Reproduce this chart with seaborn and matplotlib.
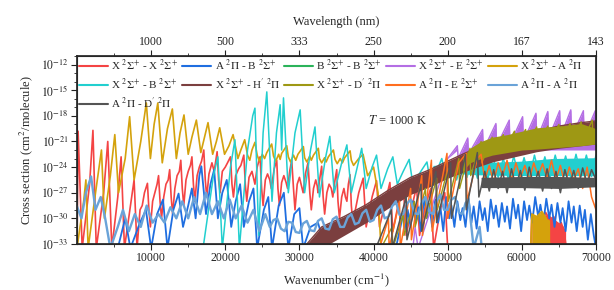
import numpy as np
import pandas as pd
import matplotlib
matplotlib.use("Agg")
import matplotlib.pyplot as plt
import seaborn as sns
from matplotlib.ticker import FixedLocator, NullFormatter

# ---------------- data (wavenumber cm^-1, log10 cross section) ----------------
labels = [r"X $^2\Sigma^{+}$ - X $^2\Sigma^{+}$", r"A $^2\Pi$ - B $^2\Sigma^{+}$",
          r"B $^2\Sigma^{+}$ - B $^2\Sigma^{+}$", r"X $^2\Sigma^{+}$ - E $^2\Sigma^{+}$",
          r"X $^2\Sigma^{+}$ - A $^2\Pi$", r"X $^2\Sigma^{+}$ - B $^2\Sigma^{+}$",
          r"X $^2\Sigma^{+}$ - H$'$ $^2\Pi$", r"X $^2\Sigma^{+}$ - D$'$ $^2\Pi$",
          r"A $^2\Pi$ - E $^2\Sigma^{+}$", r"A $^2\Pi$ - A $^2\Pi$", r"A $^2\Pi$ - D$'$ $^2\Pi$"]
colors = ["#f44444", "#1f6ee0", "#2bb35a", "#b46ee4", "#d4a20c", "#22cfcf",
          "#7b3f3f", "#9e9814", "#ff6e1f", "#6aa3d8", "#545454"]

x_x = [(0,-33.5),(150,-19.8),(700,-33.5),(1700,-26),(2150,-19.7),(2600,-33.5),(3600,-27),(4150,-21.0),
       (4700,-33.5),(5500,-27.5),(5950,-22.8),(6400,-33.5),(7300,-28),(7700,-25.5),(8100,-33.5),
       (8500,-29),(8800,-28.5),(9100,-27),(9500,-25.9),(9700,-29),(9900,-31),(10200,-28),(10500,-27),(10800,-26),
       (11000,-25.0),(11200,-28),(11400,-30),(11700,-27.5),(12000,-26),(12300,-25.5),(12500,-24.3),(12700,-27.5),
       (12900,-29.5),(13200,-26.5),(13500,-25),(13800,-24.5),(14000,-23.2),(14200,-26.5),(14400,-28.5),(14700,-25.5),
       (15000,-24.5),(15300,-23.8),(15500,-22.8),(15700,-26),(15900,-28),(16200,-25),(16500,-24),(16800,-23.3),
       (17100,-22.0),(17300,-25.5),(17500,-27.5),(17800,-24.8),(18200,-23.5),(18500,-24.5),(18900,-22.2),
       (19100,-25.5),(19300,-27),(19600,-24.5),(20000,-24),(20300,-23.5),(20700,-22.8),(20900,-26),(21100,-27.5),
       (21400,-25),(21800,-24.2),(22100,-23.8),(22500,-22.6),(22700,-26),(22900,-28),(23200,-25.2),(23600,-24.5),
       (24000,-26),(24300,-24),(24690,-22.8),(24900,-26.5),(25100,-28.5),(25400,-25.5),(25700,-24.8),(26000,-25.5),
       (26200,-26.5),(26600,-24.2),(26940,-23.2),(27100,-26.5),(27300,-28.5),(27600,-25.8),(27900,-25),(28200,-25.8),
       (28400,-26.5),(28700,-24.4),(28960,-23.2),(29200,-26.5),(29400,-29),(29700,-26),(30000,-25.2),(30300,-26.3),
       (30500,-27),(30800,-24.8),(31160,-23.5),(31400,-27),(31600,-29),(31900,-26.5),(32200,-25.5),(32400,-26.2),
       (32500,-27),(32800,-25),(33000,-23.9),(33200,-27.5),(33400,-29.5),(33700,-27),(34000,-26),(34300,-26.5),
       (34500,-27.5),(34800,-25.5),(35030,-24.3),(35200,-28),(35400,-30),(35700,-27.5),(36000,-26.5),(36200,-27.5),
       (36400,-28),(36600,-26),(36830,-24.9),(37000,-28.5),(37200,-30.5),(38000,-27),(38600,-25.3),
       (39000,-31),(39800,-27.5),(40400,-25.6),(40800,-31),(41600,-28),(42200,-25.8),(42600,-31.5),(43400,-28),
       (44000,-26),(44400,-32),(45200,-28.5),(45800,-26.3),(46200,-32),(47000,-28.5),(47700,-26.5),(48100,-33.5),
       (49000,-29),(49600,-27),(50000,-33.5),(61200,-33.5),(61350,-29.5),(61700,-30.5),(62200,-29.6),(62700,-30.8),
       (63200,-29.3),(63800,-30.2),(64300,-29.8),(64800,-31),(65300,-30.5),(65700,-31.5),(66000,-33.5)]
x_x_block = [(61350,-33.5,-29.6),(62500,-33.5,-29.8),(63500,-33.5,-29.5),(64500,-33.5,-30.2),(65500,-33.5,-30.8),
             (65900,-33.5,-31.5)]

a_b = [(5500,-33.5),(6500,-30),(7200,-33.5),(8500,-30.5),(9300,-29),(10000,-33.5),(10800,-29.5),(11600,-27.8),
       (12200,-33.5),(13000,-29),(13700,-27.1),(14300,-31),(15000,-28.5),(15500,-26.5),(16000,-30),(16500,-25),
       (16770,-23.9),(17400,-29.5),(18000,-26),(18500,-24.3),(19000,-30),(19600,-27),(20200,-25.5),(20800,-31),
       (21400,-28),(22000,-26),(22500,-31),(23200,-28),(23800,-26.5),(24300,-33.5),(25200,-29),(25800,-27.5),
       (26300,-33.5),(27200,-28.5),(27900,-27),(28500,-33.5),(29300,-29.5),(30000,-28.8),(30500,-33.5),(31500,-31),
       (32500,-30.5),(33500,-33.5),(43000,-33.5),(44000,-29.5),(44300,-31.5),(44600,-29),(45000,-31),(45300,-28),
       (45700,-30.5),(46000,-28.7),(46400,-31.5),(46800,-27.5),(47200,-30),(47500,-28.3),(47900,-31),(48300,-27.8),
       (48700,-30.5),(49000,-28.6),(49400,-31.5),(49800,-27.5),(50200,-30),(50500,-28.5),(50900,-31),(51300,-28),
       (51700,-30.2),(52000,-28.8),(52400,-31),(52800,-27.6),(53200,-30.5),(53500,-28.6),(53900,-31.2),(54300,-28),
       (54700,-30.2),(55000,-28.8),(55400,-31.5),(55800,-27.8),(56200,-30),(56500,-28.5),(56900,-31),(57300,-28.2),
       (57700,-30.4),(58000,-28.6),(58400,-31.2),(58800,-27.7),(59200,-30),(59500,-28.4),(59900,-31.5),(60300,-28),
       (60700,-30.2),(61000,-28.5),(61400,-30.5),(61800,-27.5),(62200,-29.8),(62500,-28.4),(62900,-30.5),(63300,-27.7),
       (63700,-30),(64000,-28.4),(64400,-31),(64800,-28.2),(65200,-30.5),(65500,-28.8),(65900,-31.5),(66300,-28),
       (66700,-30.5),(67000,-28.6),(67400,-31.5),(67800,-28.5),(68200,-31),(68500,-29),(68900,-32.5),(69300,-29.5),
       (69700,-32),(70000,-33.5)]

b_b = [(55000,-25.8),(58000,-25.7),(61000,-25.8),(64000,-25.7),(67000,-25.8),(70000,-25.7)]

x_e = [(45300,-33.5),(45600,-31),(46000,-33.5),(50000,-23),(51300,-21.5),(51400,-23),(52700,-20.6),(52800,-22.5),
       (54700,-19.6),(54800,-22),(56500,-18.9),(56600,-21.5),(58300,-18.5),(58400,-21.3),(60100,-18.1),(60200,-21),
       (61900,-17.7),(62000,-20.8),(63500,-17.5),(63600,-20.6),(65100,-17.4),(65200,-20.5),(66600,-17.3),
       (66700,-20.5),(68300,-17.4),(68400,-20.5),(69900,-17.4),(70000,-20.5)]

x_a = [(0,-33.5),(900,-28),(1200,-25.5),(1500,-33.5),(2500,-27),(3300,-22.0),(3700,-30),(4500,-25),(5100,-20.2),
       (5600,-27),(6500,-23),(7100,-18.1),(7700,-25.5),(8600,-21),(9350,-16.5),(9900,-23),(10400,-19),(10900,-16.5),
       (11500,-23.5),(12200,-19.5),(12860,-17.2),(13400,-23),(13900,-20),(14430,-17.9),(15000,-22.5),(15500,-20.5),
       (16100,-18.5),(16700,-22.3),(17200,-20.5),(17670,-18.8),(18300,-22.5),(18800,-21),(19250,-19.4),(19900,-22.5),
       (20500,-21.5),(21050,-20.2),(21700,-23),(22100,-22),(22620,-20.8),(23000,-22.6),(23300,-23.2),(23600,-22),
       (24000,-21.1),(24300,-22.6),(24600,-23.3),(25000,-22.5),(25300,-23),(25600,-22.3),(26260,-21.3),(26500,-22.7),
       (26800,-23.3),(27200,-22.5),(27400,-23.1),(27600,-22.4),(28290,-21.5),(28500,-22.8),(28800,-23.4),
       (29200,-22.6),(29500,-23.2),(29800,-22.5),(30530,-21.6),(30700,-22.9),(31000,-23.4),(31400,-22.7),(31600,-23.2),
       (31900,-22.6),(32550,-21.8),(32700,-23),(33000,-23.5),(33400,-22.9),(33600,-23.4),(33900,-22.8),(34580,-22.0),
       (34800,-23.1),(35100,-23.6),(35500,-23),(35800,-23.5),(36100,-22.9),(36830,-22.1),(37000,-23.2),(37300,-23.8),
       (38000,-23),(38580,-22.5),(39200,-25),(40000,-24),(40600,-27),
       (41000,-33.5),(61200,-33.5),(61350,-29.5),(62000,-29.8),(62700,-29.2),(63300,-30),(63800,-33.5)]
x_a_block = [(61350,-33.5,-29.5),(62000,-33.5,-29.8),(62700,-33.5,-29.2),(63300,-33.5,-30),(63750,-33.5,-30.2)]

x_b = [(17000,-33.5),(18400,-25),(19000,-22.8),(19600,-33.5),(20700,-24),(21300,-20.8),(21900,-33.5),(23000,-22),
       (23700,-18),(24000,-17.1),(24500,-32),(25100,-20),(25600,-15.2),(26300,-28),(26900,-20),(27400,-16.7),
       (27600,-22),(27850,-15.9),(28500,-27),(29400,-20),(30100,-17.3),(30700,-27),(31500,-22),(32100,-19.3),
       (32700,-27.5),(33500,-23),(34100,-20.4),(34700,-27),(35700,-23.5),(36400,-21.4),(37000,-27),(37800,-24),
       (38400,-21.8),(39000,-26.5),(39800,-24),(40400,-22.6),(41000,-26.5),(41900,-24.2),(42600,-22.8),(43200,-26),
       (44000,-24.5),(44800,-23.1),(45300,-26),(46300,-24.6),(47200,-23.4),(47700,-26),(48500,-24.5),(49200,-23.0),
       (49800,-25.5),(50500,-23.3),(51200,-25.5),(52000,-23),(52600,-25.2),(53300,-22.9),(54000,-25.3),(54700,-23.1),
       (55400,-25.4),(56100,-22.8),(56800,-25.2),(57500,-23),(58200,-25.5),(58900,-22.7),(59600,-25.2),(60300,-22.9),
       (61000,-25.3),(61700,-22.6),(62400,-25.1),(63100,-22.8),(63800,-25.2),(64500,-22.6),(65200,-25),(65900,-22.7),
       (66600,-25.2),(67300,-22.5),(68000,-25),(68700,-22.6),(69400,-25.1),(70000,-22.6)]
x_b_core = [(48000,-24.6,-23.8),(54000,-24.9,-23.5),(60000,-25,-23.3),(64000,-25,-23.0),(70000,-25,-22.9)]

x_h = [(30500,-33.5),(33000,-31),(36000,-29.8),(39000,-28.4),(42000,-26.7),(45000,-25.2),(47600,-24.3),
       (50000,-23.3),(53000,-22.1),(56000,-21.2),(59000,-20.5),(62000,-19.8),(65000,-19.2),(68000,-18.8),(70000,-18.6)]
x_h_core = [(30500,-33.5,-33.5),(33000,-33.5,-31),(36000,-32,-29.8),(39000,-30.5,-28.4),(42000,-28.8,-26.7),
            (45000,-27.2,-25.2),(47600,-26.3,-24.3),(50000,-25.3,-23.3),(53000,-24.3,-22.1),(56000,-23.4,-21.2),
            (59000,-22.8,-20.5),(62000,-22.2,-19.8),(65000,-21.8,-19.2),(68000,-21.5,-18.8),(70000,-21.3,-18.6)]

x_d = [(41000,-33.5),(42500,-31),(42600,-33.5),(44000,-29.5),(44100,-32),(45500,-28),(45600,-31),(47000,-26.5),
       (47100,-30),(48500,-25.3),(48600,-29),(50000,-24.2),(50100,-28),(51500,-23),(51600,-26.5),(53000,-21.8),
       (53100,-25),(54500,-21.0),(54600,-23.5),(56000,-20.5),(56100,-22.5),(57500,-20.2),(57600,-22),(59000,-19.8),
       (59100,-21.8),(60500,-19.6),(60600,-21.7),(62000,-19.3),(62100,-21.6),(63500,-19.2),(63600,-21.5),
       (65000,-19.0),(65100,-21.4),(66500,-18.9),(66600,-21.3),(68000,-18.7),(68100,-21.2),(69500,-18.5),
       (69600,-21.1),(70000,-20)]
x_d_core = [(52000,-24.5,-23),(53000,-23.5,-21.8),(54500,-23,-21.0),(56000,-22.6,-20.5),(58000,-22.3,-20.2),
            (60000,-22,-19.8),(62000,-21.9,-19.4),(65000,-21.7,-19.2),(68000,-21.5,-18.9),(70000,-21.3,-19.5)]

a_e = [(40800,-33.5),(42000,-30),(42100,-33.5),(43500,-28),(43600,-33.5),(45000,-26.5),(45100,-32.5),(46500,-25),
       (46600,-32),(47800,-23.2),(47900,-31.5),(49900,-22.4),(50000,-30),(51500,-23.5),(52500,-22.4),(52600,-28),
       (54000,-23),(54500,-22.5),(55000,-25.5),(55600,-23.8),(56200,-25.8),(56800,-23.5),(57400,-25),(58000,-23.2),
       (58600,-25.5),(59200,-23.5),(59800,-25.2),(60400,-23.8),(61000,-25.5),(61600,-23.5),(62200,-25),(62800,-23.6),
       (63400,-25.3),(64000,-23.2),(64600,-25.5),(65200,-23.8),(65800,-26),(66400,-24),(67000,-25.5),(67600,-24.2),
       (68200,-26.5),(68800,-24),(69400,-27.5),(70000,-29)]

a_a = [(0,-28.6),(600,-30),(1200,-27),(1900,-25.1),(2500,-29),(3200,-27.5),(3800,-30),(4500,-33.5),(5500,-31),
       (6200,-29),(7000,-31.5),(7800,-29.5),(8600,-31),(9400,-28.5),(10200,-30.5),(11000,-29.5),(11800,-30.5),
       (12600,-28.7),(13400,-30),(14200,-28),(15000,-30),(15800,-27.5),(16600,-29.5),(17400,-27),(18200,-29.5),
       (19000,-28),(19800,-30),(20600,-27.8),(21400,-30),(22200,-28.5),(23000,-30.5),(23800,-29),(24600,-31.5),
       (25400,-29.5),(26000,-31),(26500,-30.2),(27000,-30),(27500,-31.2),(28000,-31.5),(28500,-30.4),(29000,-30.5),
       (29500,-31.6),(30000,-31.7),(30500,-30.6),(31000,-30.3),(31500,-31.4),(32000,-31.5),(32500,-30.3),(33000,-30),
       (33500,-31.2),(34000,-31.3),(34500,-30.1),(35000,-29.8),(35500,-31),(36000,-31),(36500,-29.9),(37000,-29.5),
       (37500,-30.7),(38000,-30.5),(38500,-29.4),(39000,-29),(39500,-30.4),(40000,-30.2),(40500,-29),(41000,-28.5),
       (41500,-30),(42000,-29.8),(42500,-28.6),(43000,-28),(43500,-29.6),(44000,-29.5),(44500,-28.3),(45000,-27.8),
       (45500,-29.4),(46000,-29.5),(46500,-28.2),(47000,-27.5),(47500,-29.2),(48000,-29.5),(48500,-28),(49000,-27.2),
       (49500,-29),(50000,-29),(50500,-27.8),(51000,-27.5),(51500,-29.3),(52000,-29.5),(52400,-28.2),(52800,-27.8),
       (53500,-33.5),(54300,-31),(54600,-33.5)]

a_d = [(40300,-33.5),(42400,-29),(42500,-33.5),(44400,-27.5),(44500,-32.5),(46400,-26),(46500,-31.5),(48400,-24.5),
       (48500,-30.5),(50400,-23.5),(50500,-30),(52400,-22.5),(52500,-29),(54000,-22.3),(54200,-27.5),(55000,-24.5),
       (55600,-26.8),(56200,-24.3),(56800,-26.5),(57400,-24.5),(58000,-27),(58600,-24.2),(59200,-26.3),(59800,-24.4),
       (60400,-26.7),(61000,-24),(61600,-26.3),(62200,-24.5),(62800,-26.8),(63400,-24.2),(64000,-26.5),(64600,-24.5),
       (65200,-27),(65800,-24.3),(66400,-26.2),(67000,-24.4),(67600,-26.5),(68200,-24.1),(68800,-26),(69400,-24.3),
       (70000,-25.5)]
a_d_core = [(54500,-26.4,-25.2),(60000,-26.4,-25.1),(65000,-26.5,-25.1),(70000,-26.3,-25.2)]

series = [x_x, a_b, b_b, x_e, x_a, x_b, x_h, x_d, a_e, a_a, a_d]
bands = {0: [x_x_block], 4: [x_a_block], 5: [x_b_core], 6: [x_h_core], 7: [x_d_core], 10: [a_d_core]}
widths = [1.2, 1.3, 1.1, 1.0, 1.2, 1.1, 1.0, 1.0, 1.1, 1.7, 1.1]

xticks = [10000, 20000, 30000, 40000, 50000, 60000, 70000]
top_labels = ["1000", "500", "333", "250", "200", "167", "143"]
yticks_exp = [-33, -30, -27, -24, -21, -18, -15, -12]

# ---------------- plot ----------------
sns.set_theme(style="ticks")
plt.rcParams['font.family'] = ['Liberation Serif', 'DejaVu Serif']
plt.rcParams['mathtext.fontset'] = 'stix'

fig = plt.figure(figsize=(6.14, 2.9), dpi=100)
ax = fig.add_axes([0.1254, 0.1586, 0.8453, 0.6483])
ax.set_yscale('log')

for i, (pts, lab, col) in enumerate(zip(series, labels, colors)):
    z = 2 + i * 0.1
    for band in bands.get(i, []):
        b = pd.DataFrame(band, columns=['wn', 'lo', 'hi'])
        ax.fill_between(b['wn'], 10.0 ** b['lo'], 10.0 ** b['hi'], color=col, lw=0, zorder=z)
    df = pd.DataFrame(pts, columns=['wn', 'logcs'])
    df['cs'] = 10.0 ** df['logcs']
    sns.lineplot(data=df, x='wn', y='cs', ax=ax, color=col, lw=widths[i], sort=False,
                 estimator=None, label=lab, zorder=z)
    if i == 3:  # purple band fill
        ax.fill_between(df['wn'], 10.0 ** np.minimum(df['logcs'], -22.0), df['cs'], color=col, lw=0, zorder=z)

ax.set_xlim(0, 70000)
ax.set_ylim(1e-33, 1e-11)
ax.set_xticks(xticks)
ax.xaxis.set_minor_locator(FixedLocator([5000 + 10000 * k for k in range(7)]))
ax.set_xticklabels([str(t) for t in xticks])
ax.set_yticks([10.0 ** e for e in yticks_exp])
ax.set_yticklabels([r"$10^{%d}$" % e for e in yticks_exp])
ax.yaxis.set_minor_locator(FixedLocator([10.0 ** e for e in range(-33, -10)]))
ax.yaxis.set_minor_formatter(NullFormatter())
ax.tick_params(which='major', direction='out', length=4, width=0.8, labelsize=8.5, pad=2, colors='#222222')
ax.tick_params(which='minor', direction='out', length=2, width=0.6, colors='#222222')
for s in ax.spines.values():
    s.set_linewidth(0.8)
    s.set_color('#333333')
ax.set_xlabel(r"Wavenumber (cm$^{-1}$)", fontsize=9, labelpad=5)
ax.set_ylabel(r"Cross section (cm$^2$/molecule)", fontsize=9, labelpad=4)

ax2 = ax.twiny()
ax2.set_xlim(ax.get_xlim())
ax2.set_xticks(xticks)
ax2.set_xticklabels(top_labels)
ax2.xaxis.set_minor_locator(FixedLocator([5000 + 10000 * k for k in range(7)]))
ax2.tick_params(which='major', direction='out', length=4, width=0.8, labelsize=8.5, pad=2, colors='#222222')
ax2.tick_params(which='minor', direction='out', length=2, width=0.6, colors='#222222')
ax2.set_xlabel("Wavelength (nm)", fontsize=9, labelpad=8)

ax.text(39300, 10 ** -18.6, r"$T$ = 1000 K", fontsize=9, va='center', ha='left', zorder=10)

handles, labs = ax.get_legend_handles_labels()
order = [0, 5, 10, 1, 6, 2, 7, 3, 8, 4, 9]
leg = ax.legend([handles[k] for k in order], [labs[k] for k in order], loc='upper left',
                bbox_to_anchor=(0.0, 1.0), ncol=5, frameon=False, fontsize=8,
                handlelength=2.6, handletextpad=0.3, columnspacing=0.35, labelspacing=0.35,
                borderaxespad=0.1, borderpad=0.1)
leg.set_zorder(20)
for h in leg.get_lines():
    h.set_linewidth(1.5)

fig.savefig("out.png", dpi=100)
